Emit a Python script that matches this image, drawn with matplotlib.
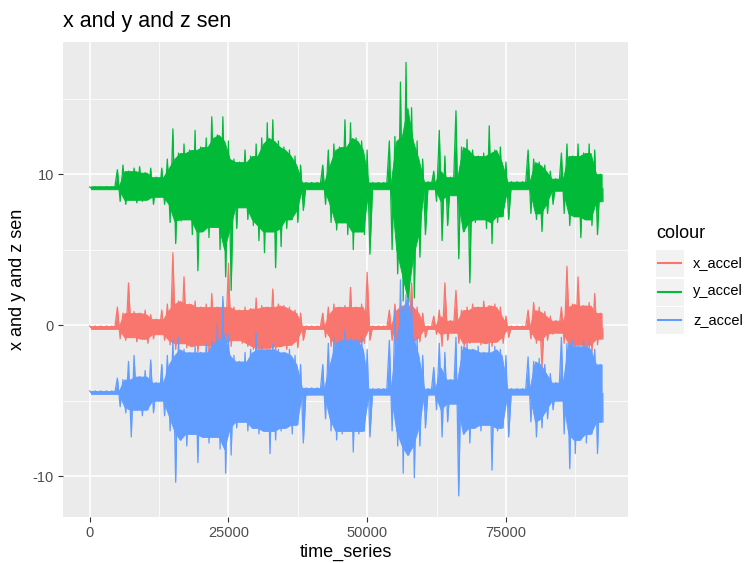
import matplotlib
matplotlib.use("Agg")
import matplotlib.pyplot as plt
from matplotlib.lines import Line2D
from matplotlib.patches import Rectangle
import numpy as np

plt.rcParams['font.family'] = ['Liberation Sans', 'DejaVu Sans']
plt.rcParams['axes.unicode_minus'] = False

# time bins (1000 samples each), envelope
time_bins = np.arange(93) * 1000
series_names = ["x_accel", "y_accel", "z_accel"]
rest_levels = [-0.15, 9.1, -4.45]

x_hi = [-0.05, -0.05, -0.05, -0.05, -0.05,
        1.2, 0.8, 2.8, 0.9, 0.8, 1.0, 0.7, 0.4,
        1.0, 1.4, 4.8, 1.6, 3.2, 1.4, 1.6, 1.2, 1.4, 2.1, 1.2, 1.6, 4.1, 1.2,
        1.0, 1.2, 1.1, 1.8, 1.3, 1.2, 2.4, 1.4, 1.3, 1.2, 1.0, 0.8,
        -0.05, -0.05, -0.05,
        0.8, 1.2, 1.4, 1.2, 1.3, 2.5, 1.2, 1.4, 3.5,
        -0.05, -0.05, -0.05,
        1.0, 1.4, 1.3, 1.5, 2.8, 1.2, 0.8,
        -0.05,
        0.6, 1.0, 2.8, 0.3,
        2.3, 1.0, 1.2, 1.4, 1.2, 1.6, 1.3, 1.4, 1.2, 0.6,
        -0.05, -0.05, -0.05,
        1.0, 1.5, 1.2, 0.9, 0.6, 0.3,
        1.2, 3.9, 1.4, 3.2, 1.3, 1.5, 2.1, 0.8]
x_lo = [-0.25, -0.25, -0.25, -0.25, -0.25,
        -0.9, -1.0, -0.8, -1.1, -0.9, -1.2, -0.9, -0.6,
        -1.0, -1.3, -1.6, -1.2, -1.5, -1.4, -1.8, -1.3, -2.8, -1.4, -1.6, -1.2, -1.4, -1.0,
        -1.2, -1.4, -1.6, -1.7, -1.5, -1.6, -1.7, -1.4, -1.6, -1.3, -1.5, -1.0,
        -0.25, -0.25, -0.25,
        -0.8, -1.4, -1.5, -1.3, -1.6, -1.4, -1.5, -1.2, -1.0,
        -0.25, -0.25, -0.25,
        -1.0, -1.2, -1.4, -1.2, -1.5, -1.1, -0.8,
        -0.25,
        -0.6, -1.4, -1.0, -0.5,
        -1.2, -1.4, -1.2, -1.1, -1.3, -1.2, -1.4, -1.1, -1.2, -0.8,
        -0.25, -0.25, -0.25,
        -0.9, -1.2, -2.8, -1.0, -0.6, -0.5,
        -1.2, -1.4, -1.6, -1.3, -3.0, -1.8, -1.3, -0.9]

y_hi = [9.15, 9.15, 9.15, 9.15, 9.15,
        10.3, 10.6, 10.2, 10.4, 10.5, 10.1, 10.4, 9.8,
        10.4, 11.0, 13.0, 11.4, 12.0, 11.6, 12.9, 11.8, 12.4, 13.8, 12.6, 13.8, 12.2, 11.0,
        10.8, 11.6, 11.2, 12.0, 12.4, 13.4, 13.6, 12.2, 11.8, 11.6, 11.2, 10.6,
        9.45, 9.45, 9.45,
        10.6, 11.6, 12.0, 11.8, 13.6, 13.4, 12.4, 12.2, 11.6,
        9.45, 9.45, 9.45,
        12.2, 12.5, 16.1, 17.4, 14.4, 12.2, 11.0,
        9.5,
        10.2, 12.9, 11.2, 9.8,
        14.2, 11.8, 12.3, 11.6, 11.2, 11.4, 13.2, 11.6, 11.8, 10.8,
        9.5, 9.5, 9.5,
        11.6, 11.0, 10.8, 10.6, 10.2, 9.7,
        11.4, 12.0, 11.2, 12.0, 11.4, 12.0, 11.6, 10.0]
y_lo = [9.05, 9.05, 9.05, 9.05, 9.05,
        8.2, 8.0, 8.3, 8.1, 8.2, 8.3, 8.0, 8.5,
        8.0, 6.8, 5.4, 6.9, 7.0, 6.0, 3.6, 6.2, 5.8, 6.5, 5.0, 3.2, 2.3, 6.4,
        7.8, 7.0, 6.6, 5.6, 4.8, 6.2, 3.8, 5.2, 6.4, 7.0, 6.8, 7.6,
        9.15, 9.15, 9.15,
        8.0, 6.8, 6.3, 6.8, 6.0, 5.0, 6.2, 6.0, 4.7,
        9.1, 9.1, 9.1,
        5.0, 3.4, 1.6, 1.5, 1.8, 4.5, 6.0,
        9.1,
        8.2, 5.6, 6.6, 8.6,
        4.4, 6.2, 2.8, 6.8, 7.0, 6.4, 5.4, 6.8, 7.2, 7.0,
        9.1, 9.1, 9.1,
        7.4, 7.0, 6.2, 7.4, 8.0, 8.9,
        7.4, 6.6, 7.2, 5.8, 7.0, 6.6, 6.0, 8.2]

z_hi = [-4.35, -4.35, -4.35, -4.35, -4.35,
        -3.5, -3.6, -2.4, -2.0, -3.4, -3.0, -2.3, -3.8,
        -2.6, -2.0, -1.0, -0.8, -1.6, -1.8, -1.4, -1.8, -1.2, -1.0, 0.1, 1.9, -0.6, -2.0,
        -2.4, -1.8, -1.6, -0.5, -1.4, -1.6, -1.2, -1.6, -1.8, -1.6, -2.0, -2.6,
        -4.15, -4.15, -4.15,
        -2.6, -1.2, -0.8, -1.0, -0.3, -0.9, -1.0, -0.8, -1.6,
        -4.2, -4.2, -4.2,
        -1.0, 1.0, 3.0, 2.0, 1.8, -0.8, -2.0,
        -4.2,
        -2.8, -1.2, -1.8, -3.6,
        -0.8, -1.4, -1.2, -1.6, -1.4, -1.8, -1.2, -1.4, -1.6, -2.0,
        -4.2, -4.2, -4.2,
        -2.1, -2.4, -2.2, -2.6, -3.2, -3.8,
        -0.8, -1.2, -1.0, -1.4, -1.0, -1.2, -1.6, -2.6]
z_lo = [-4.55, -4.55, -4.55, -4.55, -4.55,
        -5.4, -5.8, -7.4, -5.6, -6.0, -5.6, -5.8, -5.0,
        -6.0, -7.0, -10.4, -7.6, -8.0, -7.2, -9.1, -7.4, -7.8, -7.4, -8.2, -9.8, -8.6, -6.8,
        -6.4, -7.0, -6.8, -7.2, -7.0, -8.5, -7.6, -7.0, -6.8, -7.2, -6.6, -7.8,
        -4.6, -4.6, -4.6,
        -6.2, -7.0, -7.6, -7.2, -7.0, -8.4, -7.2, -7.0, -7.4,
        -4.6, -4.6, -4.6,
        -7.0, -8.0, -9.8, -8.6, -10.1, -8.0, -6.8,
        -4.6,
        -5.6, -7.4, -6.4, -5.2,
        -11.3, -7.2, -7.8, -6.8, -7.0, -6.6, -9.6, -7.0, -6.8, -7.4,
        -4.6, -4.6, -4.6,
        -6.4, -7.4, -6.8, -6.2, -5.6, -5.0,
        -7.2, -9.5, -8.5, -7.6, -7.8, -7.2, -8.5, -6.4]

colors = ["#F8766D", "#00BA38", "#619CFF"]

fig = plt.figure(figsize=(7.44, 5.63), dpi=100)
ax = fig.add_axes([63/744, 1-517/563, (628-63)/744, (517-42)/563])
ax.set_facecolor("#EBEBEB")

# zigzag: bin max at bin start, bin min at half bin
tz = np.empty(2*len(time_bins))
tz[0::2] = time_bins
tz[1::2] = time_bins + 500
for hi, lo, base, c in zip([x_hi, y_hi, z_hi], [x_lo, y_lo, z_lo], rest_levels, colors):
    hi = np.array(hi)
    lo = np.array(lo)
    # solid core: smallest excursion among neighbouring bins
    hp = np.pad(hi, 1, mode="edge")
    lp = np.pad(lo, 1, mode="edge")
    core_hi = np.minimum(np.minimum(hp[:-2], hp[1:-1]), hp[2:])
    core_lo = np.maximum(np.maximum(lp[:-2], lp[1:-1]), lp[2:])
    core_hi = np.maximum(core_hi, base + 0.1)
    core_lo = np.minimum(core_lo, base - 0.1)
    ax.fill_between(time_bins + 250, core_lo, core_hi, color=c, lw=0.6, zorder=3)
    yz = np.empty(2*len(hi))
    yz[0::2] = hi
    yz[1::2] = lo
    ax.fill_between(tz, yz, base, color=c, lw=0, zorder=3)
    ax.plot(tz, yz, color=c, lw=0.9, zorder=3)

ax.set_xlim(-4800, 97000)
ax.set_ylim(-12.7, 18.75)
ax.set_xticks([0, 25000, 50000, 75000])
ax.set_xticks([12500, 37500, 62500, 87500], minor=True)
ax.set_yticks([-10, 0, 10])
ax.set_yticks([-5, 5, 15], minor=True)
ax.grid(which="major", color="white", lw=1.1)
ax.grid(which="minor", color="white", lw=0.55)
ax.set_axisbelow(True)
for s in ax.spines.values():
    s.set_visible(False)
ax.tick_params(which="major", length=3.5, width=0.8, color="#333333",
               labelcolor="#4D4D4D", labelsize=10.5, pad=3)
ax.tick_params(which="minor", length=0)

ax.set_xlabel("time_series", fontsize=13, labelpad=3)
ax.set_ylabel("x and y and z sen", fontsize=13, labelpad=5)
fig.text(63/744, 1-22/563, "x and y and z sen", fontsize=15.5, va="center", ha="left")

# legend
fig.text(656/744, 1-234/563, "colour", fontsize=13, va="center", ha="left")
for k, (name, c) in enumerate(zip(series_names, colors)):
    yc = 1 - (263 + 28.5*k)/563
    fig.add_artist(Rectangle((655/744, yc - 14/563), 29/744, 28/563,
                             transform=fig.transFigure, facecolor="#F2F2F2",
                             edgecolor="white", lw=0.8))
    fig.add_artist(Line2D([658/744, 681/744], [yc, yc], color=c, lw=1.5,
                          transform=fig.transFigure))
    fig.text(693/744, yc, name, fontsize=10.5, va="center", ha="left")

fig.savefig("out.png", dpi=100)
